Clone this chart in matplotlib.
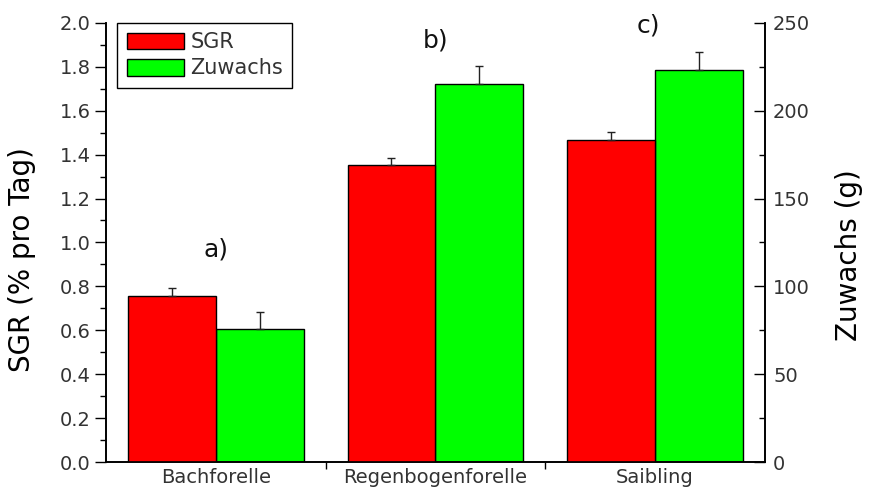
import numpy as np
import matplotlib
matplotlib.use("Agg")
import matplotlib.pyplot as plt
from matplotlib.ticker import MultipleLocator, FixedLocator

# data
fische = ["Bachforelle", "Regenbogenforelle", "Saibling"]
sgr = [0.756, 1.353, 1.467]
sgr_err = [0.035, 0.033, 0.035]
zuwachs = [75.5, 215.1, 223.1]
zuwachs_err = [10.1, 10.6, 10.2]
marken = ["a)", "b)", "c)"]
marken_y = [0.97, 1.92, 1.99]
marken_x = [0.0, 1.0, 1.97]

plt.rcParams['font.family'] = ['DejaVu Sans']
txtcol = '#333333'

fig = plt.figure(figsize=(8.69, 4.97), dpi=100)
ax = fig.add_axes([0.122, 0.0704, 0.758, 0.8836])
ax2 = ax.twinx()

x = np.arange(len(fische))
w = 0.4

b1 = ax.bar(x - w/2, sgr, w, color='#ff0000', edgecolor='black', linewidth=1,
            label='SGR', zorder=2)
ax.errorbar(x - w/2, sgr, yerr=[np.zeros(3), sgr_err], fmt='none',
            ecolor='#222222', elinewidth=1, capsize=3.2, capthick=1, zorder=3)

b2 = ax2.bar(x + w/2, zuwachs, w, color='#00ff00', edgecolor='black', linewidth=1,
             label='Zuwachs', zorder=2)
ax2.errorbar(x + w/2, zuwachs, yerr=[np.zeros(3), zuwachs_err], fmt='none',
             ecolor='#222222', elinewidth=1, capsize=3.2, capthick=1, zorder=3)

ax.set_xlim(-0.5, 2.5)
ax.set_ylim(0, 2.0)
ax2.set_ylim(0, 250)

# left axis
ax.yaxis.set_major_locator(FixedLocator(np.arange(0, 2.01, 0.2)))
ax.yaxis.set_minor_locator(MultipleLocator(0.1))
ax.set_yticklabels([f"{v:.1f}" for v in np.arange(0, 2.01, 0.2)])
ax.tick_params(axis='y', which='major', direction='out', length=8, width=1,
               labelsize=14, labelcolor=txtcol, pad=3)
ax.tick_params(axis='y', which='minor', direction='out', length=4, width=1)

# bottom axis
ax.set_xticks(x)
ax.set_xticklabels(fische)
ax.xaxis.set_minor_locator(FixedLocator([0.5, 1.5]))
ax.tick_params(axis='x', which='major', length=0, labelsize=14,
               labelcolor=txtcol, pad=4)
ax.tick_params(axis='x', which='minor', direction='out', length=5, width=1)

# right axis
ax2.yaxis.set_major_locator(MultipleLocator(50))
ax2.yaxis.set_minor_locator(MultipleLocator(25))
ax2.tick_params(axis='y', which='major', direction='in', length=8, width=1,
                labelsize=14, labelcolor=txtcol, pad=6)
ax2.tick_params(axis='y', which='minor', direction='in', length=4, width=1)

for a in (ax, ax2):
    a.spines['top'].set_visible(False)
    for s in ('left', 'right', 'bottom'):
        a.spines[s].set_linewidth(1.2)

ax.set_ylabel("SGR (% pro Tag)", fontsize=20)
ax2.set_ylabel("Zuwachs (g)", fontsize=20)
ax.yaxis.set_label_coords(-0.106, 0.46)
ax2.yaxis.set_label_coords(1.107, 0.47)

for mx, my, m in zip(marken_x, marken_y, marken):
    ax.text(mx, my, m, fontsize=18, ha='center', va='center', color='#111111')

leg = ax.legend([b1, b2], ['SGR', 'Zuwachs'], loc='upper left',
                bbox_to_anchor=(0.017, 1.0), borderaxespad=0, fontsize=15,
                handlelength=2.75, handleheight=0.85, handletextpad=0.3,
                labelspacing=0.3, borderpad=0.45, fancybox=False,
                framealpha=1, edgecolor='black')
leg.get_frame().set_linewidth(1)
for t in leg.get_texts():
    t.set_color(txtcol)
leg.set_zorder(10)
ax.set_zorder(ax2.get_zorder() + 1)
ax.patch.set_visible(False)

fig.savefig("out.png", dpi=100)
